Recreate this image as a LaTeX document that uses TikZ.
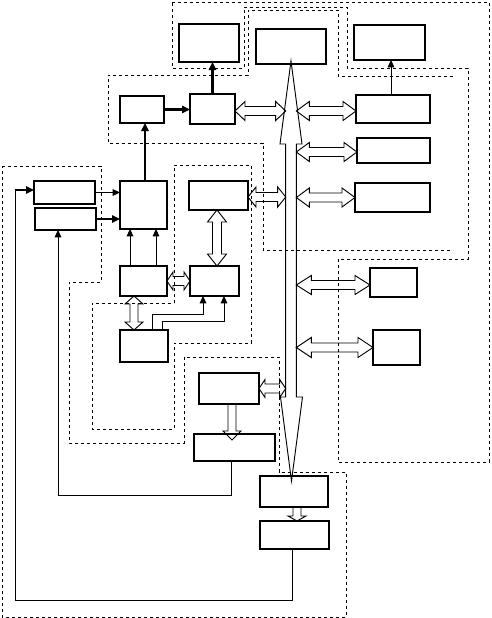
\documentclass[tikz,border=0pt]{standalone}
\usetikzlibrary{arrows.meta,calc}
\def\pxu{0.75pt}
\tikzset{
  box/.style={draw, line width=0.8pt, inner sep=0pt, outer sep=0pt, rectangle},
  zone/.style={line width=0.7pt, dash pattern=on 2.6pt off 1.9pt},
  hollow/.style={line width=0.7pt, line join=miter},
  thinarr/.style={line width=0.75pt, -{Triangle[length=5.5pt,width=5pt]}},
  thickarr/.style={line width=1.6pt, -{Triangle[length=6pt,width=5.5pt]}},
  wire/.style={line width=0.75pt},
}
\newcommand\bx[5]{\node[box, minimum width={(#4-#2)*0.75pt}, minimum height={(#5-#3)*0.75pt}] (#1) at ({(#2+#4)/2},{(#3+#5)/2}) {};}
% horizontal hollow double arrow: from, to, head length, head half width, shaft half width
\newcommand\hdarr[5]{\draw[hollow] let \p1=#1, \p2=#2 in
  (\x1,\y1) -- (\x1+#3*\pxu,\y1+#4*\pxu) -- (\x1+#3*\pxu,\y1+#5*\pxu) -- (\x2-#3*\pxu,\y1+#5*\pxu) -- (\x2-#3*\pxu,\y1+#4*\pxu) -- (\x2,\y1) -- (\x2-#3*\pxu,\y1-#4*\pxu) -- (\x2-#3*\pxu,\y1-#5*\pxu) -- (\x1+#3*\pxu,\y1-#5*\pxu) -- (\x1+#3*\pxu,\y1-#4*\pxu) -- cycle;}
% vertical hollow double arrow: top, bottom
\newcommand\vdarr[5]{\draw[hollow] let \p1=#1, \p2=#2 in
  (\x1,\y1) -- (\x1+#4*\pxu,\y1-#3*\pxu) -- (\x1+#5*\pxu,\y1-#3*\pxu) -- (\x1+#5*\pxu,\y2+#3*\pxu) -- (\x1+#4*\pxu,\y2+#3*\pxu) -- (\x1,\y2) -- (\x1-#4*\pxu,\y2+#3*\pxu) -- (\x1-#5*\pxu,\y2+#3*\pxu) -- (\x1-#5*\pxu,\y1-#3*\pxu) -- (\x1-#4*\pxu,\y1-#3*\pxu) -- cycle;}
% vertical hollow single arrow pointing down: start, tip
\newcommand\vsarr[5]{\draw[hollow] let \p1=#1, \p2=#2 in
  (\x1-#5*\pxu,\y1) -- (\x1-#5*\pxu,\y2+#3*\pxu) -- (\x1-#4*\pxu,\y2+#3*\pxu) -- (\x1,\y2) -- (\x1+#4*\pxu,\y2+#3*\pxu) -- (\x1+#5*\pxu,\y2+#3*\pxu) -- (\x1+#5*\pxu,\y1);}
\begin{document}
\begin{tikzpicture}[x=0.75pt,y=-0.75pt]
\useasboundingbox (0,0) rectangle (492,618);
% boxes
\bx{A1}{179}{24}{239}{62}
\bx{A2}{256}{29}{326}{64}
\bx{A3}{354}{25}{425}{60}
\bx{B1}{120}{96}{164}{123}
\bx{B2}{190}{94}{235}{124}
\bx{B3}{356}{95}{430}{123}
\bx{B4}{357}{138}{430}{163}
\bx{B5}{355}{183}{430}{212}
\bx{C1}{34}{181}{95}{204}
\bx{C2}{35}{208}{96}{230}
\bx{C3}{120}{181}{167}{229}
\bx{C4}{189}{181}{248}{210}
\bx{D1}{120}{266}{167}{296}
\bx{D2}{190}{266}{239}{296}
\bx{E1}{120}{330}{168}{362}
\bx{F1}{370}{268}{417}{297}
\bx{F2}{373}{330}{420}{365}
\bx{G1}{199}{373}{259}{404}
\bx{G2}{194}{434}{275}{461}
\bx{H1}{260}{476}{328}{507}
\bx{H2}{260}{521}{329}{549}
% bus
\coordinate (busL) at (285.7,0);
\coordinate (busR) at (296.3,0);
\coordinate (bustop) at (291,61);
\coordinate (busbot) at (291.5,481);
\draw[hollow] (bustop) -- (302,144) -- (296.3,144) -- (296.3,397) -- (302.5,397) -- (busbot)
  -- (280.5,397) -- (285.7,397) -- (285.7,144) -- (280,144) -- cycle;
% hollow double arrows
\hdarr{($(B2.east)+(0,2)$)}{($(B2.east -| busL)+(0,2)$)}{10}{9.5}{4.5}
\hdarr{($(busR |- B3.west)+(0,2)$)}{($(B3.west)+(0,2)$)}{13}{9.5}{4.5}
\hdarr{($(busR |- B4.west)+(0,1.5)$)}{($(B4.west)+(0,1.5)$)}{13}{9.5}{4.5}
\hdarr{($(C4.east)+(0,1.5)$)}{($(C4.east -| busL)+(0,1.5)$)}{8}{10}{4.5}
\hdarr{(busR |- B5.west)}{(B5.west)}{13}{9.5}{4.5}
\hdarr{($(busR |- F1.west)+(0,2.5)$)}{($(F1.west)+(0,2.5)$)}{15}{9.5}{4.5}
\hdarr{(busR |- F2.west)}{(F2.west)}{15}{10}{4.5}
\hdarr{(G1.east)}{(G1.east -| busL)}{6}{9}{4.5}
\hdarr{(D1.east)}{(D2.west)}{6}{9}{4.5}
\vdarr{($(D1.south)+(-9.5,0)$)}{($(E1.north)+(-10,0)$)}{8}{9}{4}
\vdarr{($(C4.south)+(-1.5,0)$)}{(D2.north)}{12}{9.5}{4.5}
\vsarr{($(G1.south)+(3,0)$)}{($(G2.north)+(0,6)$)}{9}{9}{4}
\vsarr{($(H1.south)+(3,0)$)}{(H2.north)}{5}{9}{4}
% solid connectors
\draw[thinarr] (C1.east) -- (C1.east -| C3.west);
\draw[thickarr] (C2.east) -- (C2.east -| C3.west);
\draw[thickarr] (B1.east) -- (B1.east -| B2.west);
\draw[thickarr] (B2.north) -- (B2.north |- A1.south);
\draw[thickarr] ($(C3.north)+(1.5,0)$) -- ($(C3.north |- B1.south)+(1.5,0)$);
\draw[thinarr] ($(B3.north)+(-2,0)$) -- ($(B3.north |- A3.south)+(-2,0)$);
\draw[thinarr] ($(D1.north)+(-13.5,0)$) -- ($(D1.north |- C3.south)+(-13.5,0)$);
\draw[thinarr] ($(D1.north)+(12.5,0)$) -- ($(D1.north |- C3.south)+(12.5,0)$);
\draw[thinarr] ($(E1.north)+(8,0)$) -- ++(0,-16) -| ($(D2.south)+(-11.5,0)$);
\draw[thinarr] ($(E1.north)+(18,0)$) -- ++(0,-9) -| ($(D2.south)+(9.5,0)$);
\draw[thinarr] ($(G2.south)+(-3.5,0)$) -- ++(0,34) -| ($(C2.south)+(-7.5,0)$);
\coordinate (fb) at (15,190);
\draw[wire] ($(H2.south)+(-2.5,0)$) -- ++(0,51) -| (fb);
\draw[thickarr] (fb) -- (fb -| C1.west);
% dashed zones
\draw[zone] (172,2) -- (489,2) -- (489,462) -- (338,462) -- (338,259) -- (468,259) -- (468,68)
  -- (347,68) -- (347,7) -- (244,7) -- (244,68) -- (172,68) -- cycle;
\draw[zone] (453,76) -- (338,76) -- (338,10) -- (248,10) -- (248,75) -- (108,75) -- (108,143)
  -- (263,143) -- (263,250) -- (453,250);
\draw[zone] (2,166) -- (101,166) -- (101,282) -- (69,282) -- (69,443) -- (184,443) -- (184,357)
  -- (279,357) -- (279,472) -- (346,472) -- (346,617) -- (2,617) -- cycle;
\draw[zone] (174,303) -- (174,165) -- (251,165) -- (251,343) -- (174,343) -- (174,429)
  -- (92,429) -- (92,303) -- cycle;
\end{tikzpicture}
\end{document}
